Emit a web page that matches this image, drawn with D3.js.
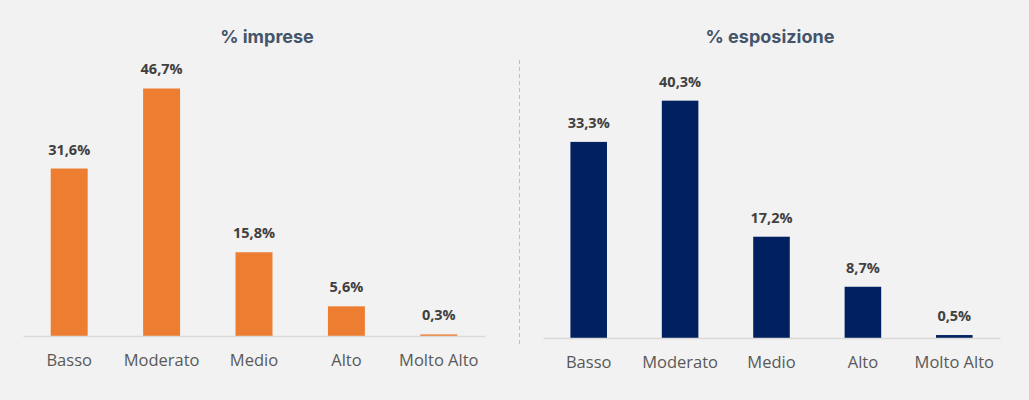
<!DOCTYPE html>
<html>
<head>
<meta charset="utf-8">
<script src="https://cdn.jsdelivr.net/npm/d3@7"></script>
<style>
  body { margin: 0; background: #f2f2f2; }
  svg { display: block; }
</style>
</head>
<body>
<div id="chart"></div>
<script>
// data
var categories = ["Basso", "Moderato", "Medio", "Alto", "Molto Alto"];
var impreseValues = [31.6, 46.7, 15.8, 5.6, 0.3];
var esposizioneValues = [33.3, 40.3, 17.2, 8.7, 0.5];
var panelTitles = ["% imprese", "% esposizione"];

var svgWidth = 1029;
var svgHeight = 400;

var svg = d3.select("#chart")
    .append("svg")
    .attr("width", svgWidth)
    .attr("height", svgHeight);

svg.append("rect")
    .attr("width", svgWidth)
    .attr("height", svgHeight)
    .attr("fill", "#f2f2f2");

//draw one panel of bars
function drawPanel(opts) {
    var xScale = d3.scaleBand()
        .domain(categories)
        .range([opts.x0, opts.x1])
        .padding(0);

    var yScale = d3.scaleLinear()
        .domain([0, opts.yMax])
        .range([opts.baseline, opts.baseline - 265]);

    var g = svg.append("g");

    //title
    g.append("text")
        .attr("x", opts.titleX)
        .attr("y", 43)
        .attr("text-anchor", "middle")
        .attr("font-family", "Inter, 'Open Sans', sans-serif")
        .attr("font-weight", "bold")
        .attr("font-size", "18px")
        .attr("fill", "#44546a")
        .text(opts.title);

    //bars
    var barW = xScale.bandwidth() * 0.4;
    g.selectAll("rect.bar")
        .data(opts.values)
        .enter()
        .append("rect")
        .attr("class", "bar")
        .attr("x", (d, i) => xScale(categories[i]) + (xScale.bandwidth() - barW) / 2)
        .attr("y", d => yScale(d))
        .attr("width", barW)
        .attr("height", d => opts.baseline - yScale(d))
        .attr("fill", opts.color);

    //axis line
    var xAxis = d3.axisBottom(xScale).tickSize(0).tickPadding(18);
    var axisG = g.append("g")
        .attr("transform", `translate(0, ${opts.baseline})`)
        .call(xAxis);
    axisG.select(".domain")
        .attr("stroke", "#d9d9d9")
        .attr("stroke-width", 1.5);
    axisG.selectAll("text")
        .attr("font-family", "'Open Sans', sans-serif")
        .attr("font-size", "16.5px")
        .attr("fill", "#595959");

    //value labels
    g.selectAll("text.value")
        .data(opts.values)
        .enter()
        .append("text")
        .attr("class", "value")
        .attr("x", (d, i) => xScale(categories[i]) + xScale.bandwidth() / 2)
        .attr("y", d => yScale(d) - 14)
        .attr("text-anchor", "middle")
        .attr("font-family", "'Open Sans', sans-serif")
        .attr("font-weight", "bold")
        .attr("font-size", "14.5px")
        .attr("fill", "#404040")
        .text(d => d.toFixed(1).replace(".", ",") + "%");
}

drawPanel({
    title: panelTitles[0], titleX: 267,
    values: impreseValues, color: "#ed7d31",
    x0: 23, x1: 485, baseline: 336, yMax: 50
});

drawPanel({
    title: panelTitles[1], titleX: 770,
    values: esposizioneValues, color: "#002060",
    x0: 543, x1: 1000, baseline: 338, yMax: 45
});

//dashed separator
svg.append("line")
    .attr("x1", 519.5).attr("x2", 519.5)
    .attr("y1", 60).attr("y2", 344)
    .attr("stroke", "#bfbfbf")
    .attr("stroke-width", 1)
    .attr("stroke-dasharray", "4,3");
</script>
</body>
</html>
